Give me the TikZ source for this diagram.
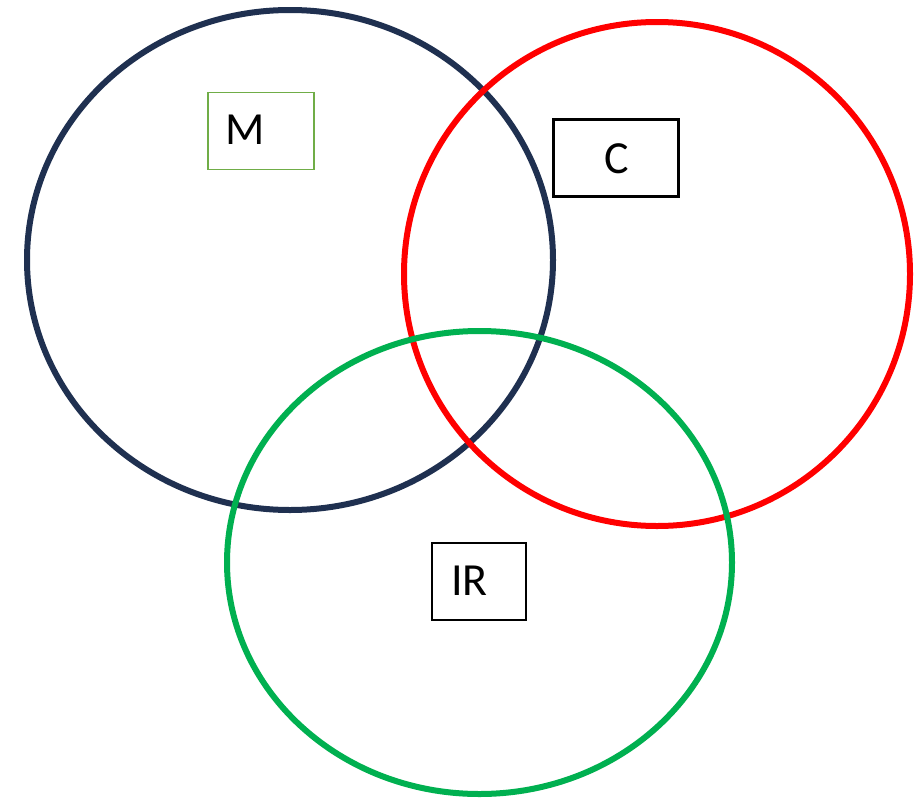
\documentclass[tikz,border=0pt]{standalone}
\usepackage{fontspec}
\setmainfont{Carlito}
\definecolor{navy}{HTML}{1F3050}
\definecolor{vred}{HTML}{FF0000}
\definecolor{vgreen}{HTML}{00B050}
\definecolor{boxgreen}{HTML}{70AD47}
\begin{document}
\begin{tikzpicture}[x=1pt,y=-1pt,
  ring/.style={line width=6pt},
  lbl/.style={font=\fontsize{46}{50}\selectfont, inner sep=0pt, anchor=center},
  boxnode/.style={draw, rectangle, inner sep=0pt}]
\useasboundingbox (0,0) rectangle (924,798);
\fill[white] (0,0) rectangle (924,798);
% circles
\draw[ring, navy] (290,260) ellipse [x radius=263, y radius=250];
\draw[ring, vred] (657,274) ellipse [x radius=253, y radius=252];
\draw[ring, vgreen] (479.5,562.5) ellipse [x radius=252.5, y radius=231.5];
% boxes
\node[boxnode, draw=boxgreen, line width=1.5pt, minimum width=106pt, minimum height=77pt] (mbox) at (261,131) {};
\node[boxnode, draw=black, line width=3pt, minimum width=125pt, minimum height=77pt] (cbox) at (615.5,157.5) {};
\node[boxnode, draw=black, line width=2pt, minimum width=94pt, minimum height=77pt] (irbox) at (479,581.5) {};
% labels
\node[lbl] (m) at (245,130) {M};
\node[lbl] (c) at (617,159) {C};
\node[lbl] (ir) at (469.5,581) {IR};
\end{tikzpicture}
\end{document}
